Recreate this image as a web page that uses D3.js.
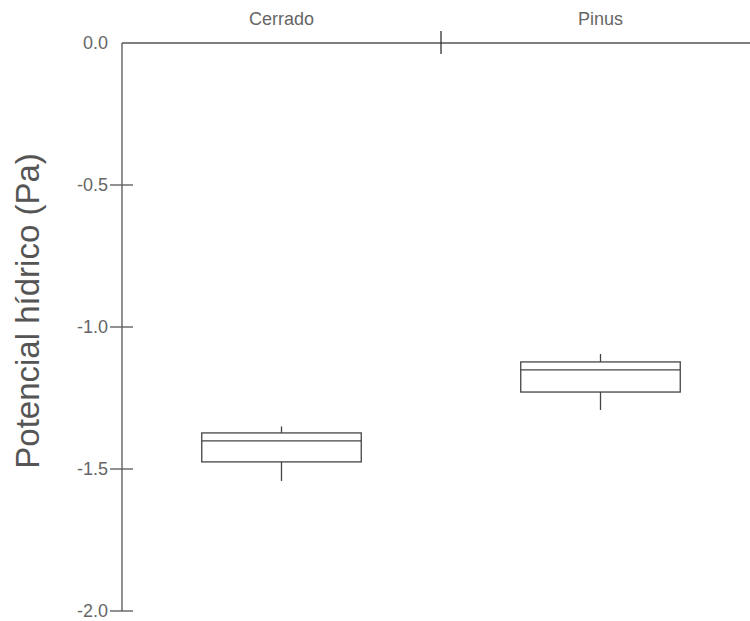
<!DOCTYPE html>
<meta charset="utf-8">
<style>
    html,
    body {
        margin: 0;
        padding: 0;
        background: #fff;
    }

    text {
        font-family: "Liberation Sans", Arial, sans-serif;
        fill: #555;
    }

    .lbl {
        fill: #666;
    }
</style>
<svg id="canvas" width="750" height="621"></svg>
<script src="https://cdn.jsdelivr.net/npm/d3@7"></script>
<script>
    // box data
    const groups = ["Cerrado", "Pinus"];
    const whiskerHigh = [-1.35, -1.095];
    const q3 = [-1.373, -1.123];
    const median = [-1.401, -1.151];
    const q1 = [-1.475, -1.229];
    const whiskerLow = [-1.542, -1.292];
    const yTicks = [0, -0.5, -1.0, -1.5, -2.0];

    var svg = d3.select("svg");

    var x = d3.scaleBand().domain(groups).range([122, 760]);
    var y = d3.scaleLinear().domain([-2, 0]).range([611, 43]);

    var ink = "#555";

    // y axis
    var yAxis = svg.append("g").attr("transform", "translate(122,0)");
    yAxis.append("line")
        .attr("x1", 0).attr("x2", 0)
        .attr("y1", y(0)).attr("y2", y(-2))
        .attr("stroke", ink).attr("stroke-width", 1.3);
    yAxis.selectAll(".tick")
        .data(yTicks.filter(d => d !== 0))
        .enter().append("line")
        .attr("x1", -12).attr("x2", 11)
        .attr("y1", d => y(d)).attr("y2", d => y(d))
        .attr("stroke", ink).attr("stroke-width", 1.3);
    yAxis.selectAll("text")
        .data(yTicks)
        .enter().append("text")
        .attr("class", "lbl")
        .attr("x", -14)
        .attr("y", d => y(d))
        .attr("dy", "0.35em")
        .attr("text-anchor", "end")
        .style("font-size", "18px")
        .text(d => d3.format(".1f")(d).replace("\u2212", "-"));

    // top x axis
    var xAxis = svg.append("g").attr("transform", "translate(0," + y(0) + ")");
    xAxis.append("line")
        .attr("x1", 122).attr("x2", 760)
        .attr("y1", 0).attr("y2", 0)
        .attr("stroke", ink).attr("stroke-width", 1.3);
    xAxis.selectAll(".sep")
        .data(groups.slice(1))
        .enter().append("line")
        .attr("x1", d => x(d)).attr("x2", d => x(d))
        .attr("y1", -12).attr("y2", 11)
        .attr("stroke", "#333").attr("stroke-width", 1.3);
    xAxis.selectAll("text")
        .data(groups)
        .enter().append("text")
        .attr("class", "lbl")
        .attr("x", d => x(d) + x.bandwidth() / 2)
        .attr("y", -18)
        .attr("text-anchor", "middle")
        .style("font-size", "18px")
        .text(d => d);

    // y title
    svg.append("text")
        .attr("transform", "translate(39,311) rotate(-90)")
        .attr("text-anchor", "middle")
        .style("font-size", "33px")
        .text("Potencial hídrico (Pa)");

    // boxes
    var boxW = x.bandwidth() * 0.5;
    var box = svg.selectAll(".box")
        .data(groups)
        .enter().append("g")
        .attr("class", "box")
        .attr("transform", d => "translate(" + (x(d) + x.bandwidth() / 2) + ",0)");

    box.append("line")
        .attr("x1", 0).attr("x2", 0)
        .attr("y1", (d, i) => y(whiskerHigh[i])).attr("y2", (d, i) => y(q3[i]))
        .attr("stroke", "#444").attr("stroke-width", 1.3);
    box.append("line")
        .attr("x1", 0).attr("x2", 0)
        .attr("y1", (d, i) => y(q1[i])).attr("y2", (d, i) => y(whiskerLow[i]))
        .attr("stroke", "#444").attr("stroke-width", 1.3);
    box.append("rect")
        .attr("x", -boxW / 2)
        .attr("width", boxW)
        .attr("y", (d, i) => y(q3[i]))
        .attr("height", (d, i) => y(q1[i]) - y(q3[i]))
        .attr("fill", "none")
        .attr("stroke", "#444").attr("stroke-width", 1.3);
    box.append("line")
        .attr("x1", -boxW / 2).attr("x2", boxW / 2)
        .attr("y1", (d, i) => y(median[i])).attr("y2", (d, i) => y(median[i]))
        .attr("stroke", "#444").attr("stroke-width", 1.3);
</script>
